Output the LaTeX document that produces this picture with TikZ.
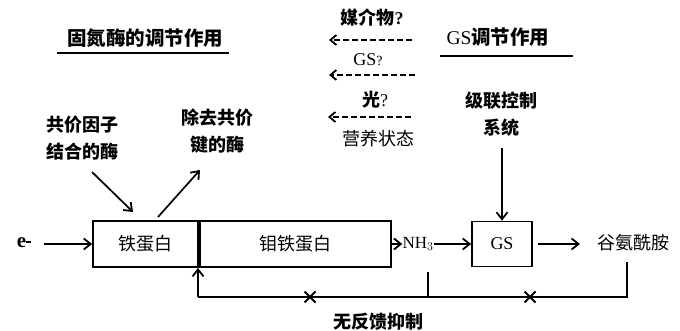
\documentclass[tikz,border=0pt]{standalone}
\usepackage{fontspec}
\setmainfont{Liberation Serif}
\newfontfamily\cjk{Noto Sans CJK SC}
\usetikzlibrary{arrows.meta,shapes.misc}
\tikzset{
  txt/.style={inner sep=0pt, font=\cjk\fontsize{18}{27}\selectfont, align=center},
  btxt/.style={inner sep=0pt, font=\cjk\bfseries\fontsize{18}{27}\selectfont, align=center},
  ttl/.style={inner sep=0pt, font=\cjk\bfseries\fontsize{19.5}{24}\selectfont},
  ln/.style={line width=1.7pt},
  arr/.style={line width=1.7pt, -{Straight Barb[length=7pt,width=11pt,line width=1.8pt]}},
  darr/.style={line width=1.5pt, dash pattern=on 6pt off 3pt, -{Straight Barb[length=6pt,width=10pt,line width=1.8pt]}},
  boxs/.style={draw, line width=1.7pt, minimum height=46pt, inner sep=0pt},
  xmark/.style={cross out, draw, line width=2pt, minimum size=9pt, inner sep=0pt}
}
\begin{document}
\begin{tikzpicture}[x=1pt,y=-1pt]
\useasboundingbox (0,0) rectangle (680,331);
% titles
\node[ttl] (t1) at (145,38) {固氮酶的调节作用};
\coordinate (u1a) at (57,53); \coordinate (u1b) at (229,53);
\draw[ln] (u1a) -- (u1b);
\node[ttl] (t2) at (498,37) {\mdseries\rmfamily GS\cjk\bfseries 调节作用};
\coordinate (u2a) at (440,56); \coordinate (u2b) at (573,56);
\draw[ln] (u2a) -- (u2b);
% dashed left arrows
\node[btxt] (m1) at (372,18) {媒介物\rmfamily ?};
\coordinate (d1a) at (412,40); \coordinate (d1b) at (329,40);
\draw[darr] (d1a) -- (d1b);
\node[txt] (m2) at (368,60) {\rmfamily GS\fontsize{14}{14}\selectfont ?};
\coordinate (d2a) at (415,75); \coordinate (d2b) at (329,75);
\draw[darr] (d2a) -- (d2b);
\node[btxt] (m3) at (375,100) {光\rmfamily\mdseries ?};
\coordinate (d3a) at (411,117); \coordinate (d3b) at (328,117);
\draw[darr] (d3a) -- (d3b);
\node[txt] (m4) at (378,139) {营养状态};
% cascade
\node[btxt] (cas) at (501,114) {级联控制\\系统};
% enzymes
\node[btxt] (cov) at (82,138) {共价因子\\结合的酶};
\node[btxt] (rem) at (217,131) {除去共价\\键的酶};
% boxes
\node[boxs, minimum width=105pt] (fe) at (145.5,244) {};
\node[boxs, minimum width=191pt, anchor=west] (mofe) at (fe.east) {};
\node[txt] at (fe.center) {铁蛋白};
\node[txt] at (mofe.center) {钼铁蛋白};
\node[inner sep=1pt, font=\bfseries\fontsize{21}{21}\selectfont] (e) at (24,243) {e\raisebox{0.5ex}{\rule{5pt}{2pt}}};
\coordinate (ea) at (44,244);
\draw[arr] (ea) -- (fe.west);
\node[inner sep=0pt, font=\fontsize{17}{17}\selectfont] (nh) at (418,244) {NH$_3$};
\draw[arr] (mofe.east) -- (nh.west);
\node[boxs, minimum width=60pt, minimum height=45pt] (gs) at (502,244) {};
\node[inner sep=0pt, font=\fontsize{18}{18}\selectfont] at (gs.center) {GS};
\draw[arr] (nh.east) -- (gs.west);
\node[txt] (gln) at (633,243) {谷氨酰胺};
\coordinate (g1) at (538,244); \coordinate (g2) at (580,244);
\draw[arr] (g1) -- (g2);
\coordinate (cb) at (502,148);
\draw[arr] (cb) -- (gs.north);
% enzyme arrows
\coordinate (ca) at (92,172); \coordinate (cc) at (133,212);
\draw[arr] (ca) -- (cc);
\coordinate (ra) at (158,217); \coordinate (rc) at (200,170);
\draw[arr] (ra) -- (rc);
% feedback
\coordinate (fb0) at (198,297);
\coordinate (fbt) at (198,268);
\coordinate (nhb) at (428,272);
\coordinate (nhf) at (428,297);
\coordinate (glb) at (627,262);
\coordinate (glf) at (627,297);
\draw[ln] (glb) -- (glf) -- (fb0);
\draw[ln] (nhb) -- (nhf);
\draw[arr] (fb0) -- (fbt);
\node[xmark] (x1) at (310,297) {};
\node[xmark] (x2) at (530,297) {};
\node[btxt] (nf) at (378,322) {无反馈抑制};
\end{tikzpicture}
\end{document}
